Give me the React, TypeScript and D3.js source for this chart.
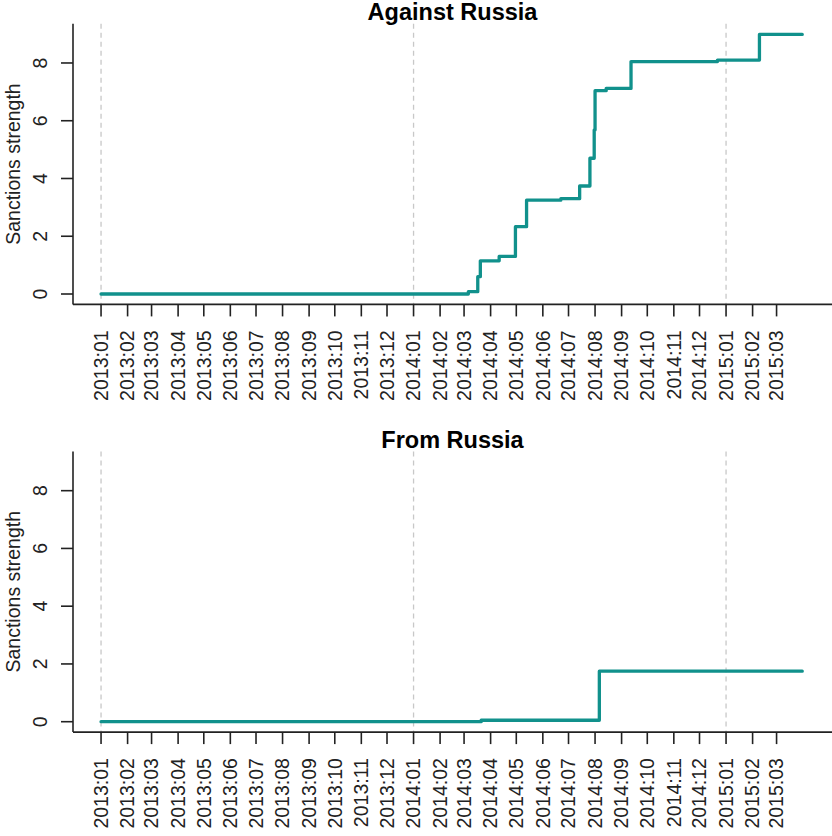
import React from 'react'
import * as d3 from 'd3'

const WIDTH = 832
const HEIGHT = 836

// step changes: date of change and strength from that date on
const againstDates = ['2013-01-01', '2014-03-06', '2014-03-17', '2014-03-20', '2014-04-11', '2014-04-30', '2014-05-13', '2014-06-22', '2014-07-14', '2014-07-26', '2014-07-31', '2014-08-01', '2014-08-14', '2014-09-12', '2014-12-22', '2015-02-09', '2015-03-31']
const againstValues = [0, 0.08, 0.6, 1.15, 1.3, 2.33, 3.25, 3.3, 3.74, 4.7, 5.68, 7.04, 7.12, 8.05, 8.1, 8.99, 8.99]

const fromDates = ['2013-01-01', '2014-03-21', '2014-08-06', '2015-03-31']
const fromValues = [0, 0.05, 1.75, 1.75]

const monthLabels = ['2013:01', '2013:02', '2013:03', '2013:04', '2013:05', '2013:06', '2013:07', '2013:08', '2013:09', '2013:10', '2013:11', '2013:12', '2014:01', '2014:02', '2014:03', '2014:04', '2014:05', '2014:06', '2014:07', '2014:08', '2014:09', '2014:10', '2014:11', '2014:12', '2015:01', '2015:02', '2015:03']
const yearLines = ['2013:01', '2014:01', '2015:01']
const yTicks = [0, 2, 4, 6, 8]

const parseDay = d3.utcParse('%Y-%m-%d')
const parseMonth = d3.utcParse('%Y:%m')

const FONT = '"Liberation Sans", Arial, Helvetica, sans-serif'
const LINE_COLOR = '#11918c'

const plot = { left: 73, right: 830.3, top: 23.7, bottom: 304.4 }

const Panel = ({ title, dates, values, offsetY }) => {
    const data = dates.map((d, i) => ({ date: parseDay(d), value: values[i] }))

    // R style 4% padding on both axes
    const t0 = data[0].date.getTime()
    const t1 = data[data.length - 1].date.getTime()
    const pad = (t1 - t0) * 0.04
    const xScale = d3.scaleUtc()
        .domain([new Date(t0 - pad), new Date(t1 + pad)])
        .range([plot.left, plot.right])

    const yScale = d3.scaleLinear()
        .domain([-0.36, 9.36])
        .range([plot.bottom, plot.top])

    const line = d3.line()
        .x(d => xScale(d.date))
        .y(d => yScale(d.value))
        .curve(d3.curveStepAfter)

    return (
        <g transform={`translate(0,${offsetY})`} fontFamily={FONT}>
            <text x={(plot.left + WIDTH) / 2} y={20} textAnchor="middle" fontSize={23.5} fontWeight="bold" fill="#000">
                {title}
            </text>

            {/* year grid */}
            {yearLines.map(m => {
                const x = xScale(parseMonth(m))
                return (
                    <line key={m} x1={x} x2={x} y1={plot.top} y2={plot.bottom}
                        stroke="#c8c8c8" strokeWidth={1.3} strokeDasharray="5,4" />
                )
            })}

            <path d={line(data)} fill="none" stroke={LINE_COLOR} strokeWidth={3.3}
                strokeLinejoin="round" strokeLinecap="round" />

            {/* y axis */}
            <line x1={plot.left} x2={plot.left} y1={plot.top} y2={plot.bottom} stroke="#222" strokeWidth={1.6} />
            {yTicks.map(v => {
                const y = yScale(v)
                return (
                    <g key={v}>
                        <line x1={plot.left} x2={plot.left - 12} y1={y} y2={y} stroke="#222" strokeWidth={1.6} />
                        <text transform={`translate(40,${y}) rotate(-90)`} dy="0.35em" textAnchor="middle" fontSize={19.5} fill="#222">
                            {v}
                        </text>
                    </g>
                )
            })}
            <text transform={`translate(19.5,${(plot.top + plot.bottom) / 2}) rotate(-90)`} textAnchor="middle" fontSize={19.5} fill="#222">
                Sanctions strength
            </text>

            {/* x axis */}
            <line x1={plot.left} x2={WIDTH} y1={plot.bottom} y2={plot.bottom} stroke="#222" strokeWidth={1.6} />
            {monthLabels.map(m => {
                const x = xScale(parseMonth(m))
                return (
                    <g key={m}>
                        <line x1={x} x2={x} y1={plot.bottom} y2={plot.bottom + 12} stroke="#222" strokeWidth={1.6} />
                        <text transform={`translate(${x},${plot.bottom + 26}) rotate(-90)`} dy="0.35em" textAnchor="end" fontSize={19.5} fill="#222">
                            {m}
                        </text>
                    </g>
                )
            })}
        </g>
    )
}

const App = () => {
    return (
        <svg width={WIDTH} height={HEIGHT} style={{ position: 'absolute', left: 0, top: 0, background: '#fff' }}>
            <Panel title="Against Russia" dates={againstDates} values={againstValues} offsetY={0} />
            <Panel title="From Russia" dates={fromDates} values={fromValues} offsetY={427.7} />
        </svg>
    )
}

export default App
